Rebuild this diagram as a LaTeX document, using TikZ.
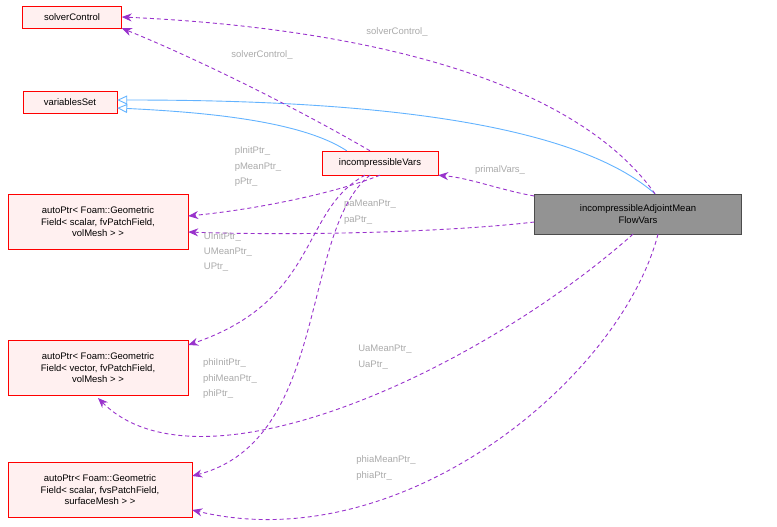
\documentclass[tikz,border=0pt]{standalone}
\usepackage{fontspec}
\setmainfont{Liberation Sans}
\usetikzlibrary{arrows.meta}
\definecolor{edgeblue}{RGB}{99,179,255}
\definecolor{edgepurple}{RGB}{153,50,204}
\definecolor{boxfill}{RGB}{255,240,240}
\definecolor{labelgray}{RGB}{170,170,170}
\tikzset{
  cls/.style={draw=red, fill=boxfill, align=center, inner sep=2pt, font=\fontsize{9.5}{11.5}\selectfont},
  inherit/.style={draw=edgeblue, line width=0.9pt, -{Triangle[open, length=10pt, width=9pt]}},
  usage/.style={draw=edgepurple, line width=0.9pt, dash pattern=on 4pt off 3pt, -{Stealth[length=10pt, width=8pt]}},
  lbl/.style={text=labelgray, font=\fontsize{9.5}{11.5}\selectfont, align=left}
}
\begin{document}
\begin{tikzpicture}[x=1pt,y=-1pt]
	\useasboundingbox (0,0) rectangle (777,527);
	% classes
	\node[cls, minimum width=99pt, minimum height=22pt] (sc) at (72,17) {solverControl};
	\node[cls, minimum width=94pt, minimum height=22pt] (vs) at (70,102) {variablesSet};
	\node[cls, minimum width=116pt, minimum height=24pt] (iv) at (380,163) {incompressibleVars};
	\node[cls, minimum width=180pt, minimum height=55pt] (ps) at (98,222) {autoPtr< Foam::Geometric\\Field< scalar, fvPatchField,\\volMesh > >};
	\node[cls, minimum width=180pt, minimum height=55pt] (pv) at (98,368) {autoPtr< Foam::Geometric\\Field< vector, fvPatchField,\\volMesh > >};
	\node[cls, minimum width=184pt, minimum height=55pt] (pf) at (100,490) {autoPtr< Foam::Geometric\\Field< scalar, fvsPatchField,\\surfaceMesh > >};
	\node[draw=gray!60!black, fill=gray!85, align=center, minimum width=207pt, minimum height=40pt,
		inner sep=2pt, font=\fontsize{9.5}{11.5}\selectfont] (am) at (638,214) {incompressibleAdjointMean\\FlowVars};
	% inheritance
	\draw[inherit] (iv.north west) ++(25,0) .. controls (300,120) and (200,112) .. (vs.east |- 0,108);
	\draw[inherit] (am.north) ++(17,0) .. controls (560,110) and (300,100) .. (vs.east |- 0,100);
	% usage
	\draw[usage] (iv.north) ++(-10,0) .. controls (300,110) and (200,60) .. (sc.south east);
	\node[lbl] at (262,55) {solverControl\_};
	\draw[usage] (am.north) ++(17,0) .. controls (560,60) and (300,25) .. (sc.east);
	\node[lbl] at (397,32) {solverControl\_};
	\draw[usage] (am.west |- 0,196) .. controls (500,190) and (470,178) .. (iv.south east);
	\node[lbl] at (500,170) {primalVars\_};
	\draw[usage] (iv.south) .. controls (330,195) and (250,210) .. (ps.east |- 0,216);
	\node[lbl] at (258,167) {pInitPtr\_\\[4pt]pMeanPtr\_\\[4pt]pPtr\_};
	\draw[usage] (am.west |- 0,222) .. controls (450,232) and (300,236) .. (ps.east |- 0,232);
	\node[lbl] at (370,212) {paMeanPtr\_\\[4pt]paPtr\_};
	\draw[usage] (iv.south) ++(-15,0) .. controls (300,210) and (320,300) .. (pv.east |- 0,345);
	\node[lbl] at (228,252) {UInitPtr\_\\[4pt]UMeanPtr\_\\[4pt]UPtr\_};
	\draw[usage] (iv.south) ++(-10,0) .. controls (300,230) and (330,440) .. (pf.east |- 0,476);
	\node[lbl] at (230,379) {phiInitPtr\_\\[4pt]phiMeanPtr\_\\[4pt]phiPtr\_};
	\draw[usage] (am.south) ++(-5,0) .. controls (480,370) and (200,500) .. (pv.south |- 0,398);
	\node[lbl] at (385,357) {UaMeanPtr\_\\[4pt]UaPtr\_};
	\draw[usage] (am.south) ++(20,0) .. controls (620,380) and (400,560) .. (pf.east |- 0,510);
	\node[lbl] at (386,468) {phiaMeanPtr\_\\[4pt]phiaPtr\_};
\end{tikzpicture}
\end{document}
